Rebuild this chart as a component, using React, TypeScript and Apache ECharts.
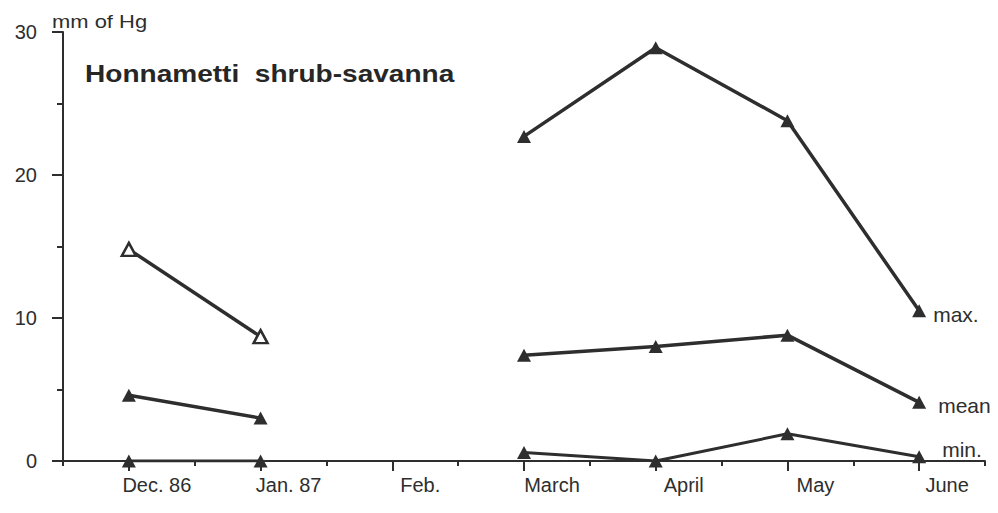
import React, { useEffect, useRef } from "react";
import * as echarts from "echarts";

const categories = ["Dec. 86", "Jan. 87", "Feb.", "March", "April", "May", "June"];
const maxValues: (number | null)[] = [14.8, 8.7, null, 22.7, 28.9, 23.8, 10.5];
const meanValues: (number | null)[] = [4.6, 3.0, null, 7.4, 8.0, 8.8, 4.1];
const minValues: (number | null)[] = [0, 0, null, 0.6, 0, 1.9, 0.3];
const hollowMax = [true, true, false, false, false, false, false];
const yTicks = [0, 10, 20, 30];

const INK = "#2e2e2e";
const FONT = "'Liberation Sans', Arial, Helvetica, sans-serif";

export default function App() {
  const ref = useRef<HTMLDivElement>(null);
  useEffect(() => {
    if (!ref.current) return;
    const chart = echarts.init(ref.current, null, { renderer: "svg" });
    const lineSeries = (name: string, data: any[], width: number, label: any) => ({
      type: "line",
      name,
      data,
      xAxisIndex: 0,
      connectNulls: false,
      symbol: "triangle",
      symbolSize: [14, 13],
      lineStyle: { color: INK, width },
      itemStyle: { color: INK },
      endLabel: {
        show: true,
        formatter: name,
        color: INK,
        fontSize: 21,
        fontFamily: FONT,
        ...label,
      },
      z: 3,
    });
    chart.setOption({
      animation: false,
      backgroundColor: "#ffffff",
      grid: { left: 63, right: 13, top: 32, bottom: 52, containLabel: false },
      xAxis: [
        {
          type: "category",
          data: categories,
          boundaryGap: true,
          position: "bottom",
          axisLine: { show: true, lineStyle: { color: INK, width: 2 } },
          axisTick: { show: true, alignWithLabel: true, length: 10, lineStyle: { color: INK, width: 2 } },
          axisLabel: {
            color: INK,
            fontSize: 20,
            fontFamily: FONT,
            margin: 14,
            padding: [0, 0, 0, 56],
            interval: 0,
          },
          splitLine: { show: false },
        },
        {
          type: "category",
          data: categories,
          boundaryGap: true,
          position: "bottom",
          axisLine: { show: false },
          axisTick: { show: true, interval: 0, length: 5, lineStyle: { color: INK, width: 2 } },
          axisLabel: { show: false },
          splitLine: { show: false },
        },
      ],
      yAxis: {
        type: "value",
        min: yTicks[0],
        max: yTicks[yTicks.length - 1],
        interval: 10,
        axisLine: { show: true, lineStyle: { color: INK, width: 2 } },
        axisTick: { show: true, length: 11, lineStyle: { color: INK, width: 2 } },
        minorTick: { show: true, splitNumber: 2, length: 6, lineStyle: { color: INK, width: 2 } },
        splitLine: { show: false },
        axisLabel: { color: INK, fontSize: 20, fontFamily: FONT, margin: 26 },
      },
      graphic: [
        {
          type: "text",
          x: 52,
          y: 22,
          scaleX: 1.22,
          style: {
            text: "mm of Hg",
            fill: INK,
            font: `18px ${FONT}`,
            verticalAlign: "middle",
            align: "left",
          },
        },
        {
          type: "text",
          x: 85,
          y: 74,
          scaleX: 1.22,
          style: {
            text: "Honnametti  shrub-savanna",
            fill: "#262626",
            font: `bold 23px ${FONT}`,
            verticalAlign: "middle",
            align: "left",
          },
        },
      ],
      series: [
        lineSeries(
          "max.",
          maxValues.map((v, i) =>
            hollowMax[i] && v != null
              ? { value: v, itemStyle: { color: "#ffffff", borderColor: INK, borderWidth: 2.5 } }
              : v
          ),
          3.5,
          { distance: 14, offset: [0, 4] }
        ),
        lineSeries("mean", meanValues, 3.5, { distance: 19, offset: [0, 3] }),
        lineSeries("min.", minValues, 3, { distance: 23, offset: [0, -7] }),
      ],
    });
    return () => chart.dispose();
  }, []);
  return (
    <div
      ref={ref}
      style={{ position: "absolute", left: 0, top: 0, width: 998, height: 513, background: "#fff" }}
    />
  );
}
